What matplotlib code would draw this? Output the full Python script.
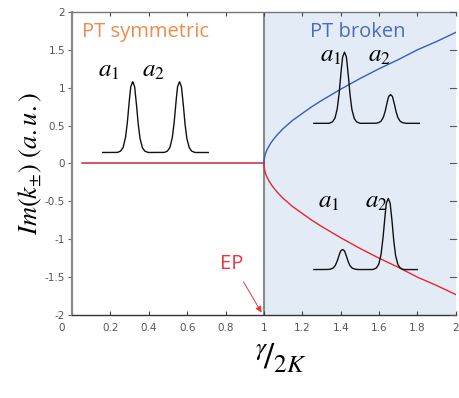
import numpy as np
import matplotlib
matplotlib.use("Agg")
import matplotlib.pyplot as plt
import matplotlib.transforms as mtransforms

plt.rcParams["mathtext.fontset"] = "stix"

# branches
gamma_flat = [0.05, 1.0]
im_flat = [0.0, 0.0]
gamma_broken = [1.0, 1.0002, 1.0005, 1.001, 1.002, 1.003, 1.005, 1.0075, 1.01,
                1.015, 1.02, 1.03, 1.04, 1.055, 1.07, 1.085, 1.1, 1.125, 1.15,
                1.2, 1.25, 1.3, 1.4, 1.5, 1.6, 1.7, 1.8, 1.9, 2.0]
im_upper = [0.0, 0.02, 0.032, 0.045, 0.063, 0.077, 0.1, 0.123, 0.142,
            0.174, 0.2, 0.245, 0.285, 0.335, 0.38, 0.42, 0.46, 0.515, 0.57,
            0.66, 0.75, 0.83, 0.98, 1.12, 1.25, 1.37, 1.5, 1.61, 1.73]
im_lower = [-v for v in im_upper]

# peak shape (offset, relative height) read from the sketches
peak_dx = [-0.08, -0.063, -0.05, -0.038, -0.028, -0.019, -0.01, 0.0,
           0.01, 0.019, 0.028, 0.038, 0.05, 0.063, 0.08]
peak_h = [0.0, 0.02, 0.07, 0.2, 0.42, 0.7, 0.93, 1.0,
          0.93, 0.7, 0.42, 0.2, 0.07, 0.02, 0.0]

# sketches: x range, baseline, peak centres, peak heights
sketch_x0 = [0.16, 1.26, 1.26]
sketch_x1 = [0.71, 1.81, 1.80]
sketch_base = [0.145, 0.53, -1.40]
sketch_centres = [[0.316, 0.56], [1.42, 1.66], [1.41, 1.648]]
sketch_heights = [[0.935, 0.935], [0.94, 0.38], [0.265, 0.94]]
label_pos = [[(0.19, 1.23), (0.425, 1.23)],
             [(1.35, 1.43), (1.60, 1.43)],
             [(1.34, -0.50), (1.585, -0.50)]]

fig = plt.figure(figsize=(4.59, 3.98), dpi=100)
ax = fig.add_axes([0.157, 0.2085, 0.836, 0.7615])
ax.set_xlim(0, 2)
ax.set_ylim(-2, 2)

ax.axvspan(1, 2, color="#e3ecf6", zorder=0, lw=0)
ax.axvline(1, color="#8a8a8a", lw=1.5, zorder=1)

ax.plot(gamma_flat, im_flat, color="#c8283c", lw=1.1, zorder=3)
ax.plot(gamma_broken, im_upper, color="#3a5bbf", lw=1.0, zorder=3)
ax.plot(gamma_broken, im_lower, color="#e8262a", lw=1.0, zorder=3)

for i in range(3):
    xs = np.linspace(sketch_x0[i], sketch_x1[i], 400)
    ys = np.full_like(xs, sketch_base[i])
    for c, h in zip(sketch_centres[i], sketch_heights[i]):
        ys += h * np.interp(xs - c, peak_dx, peak_h, left=0, right=0)
    ax.plot(xs, ys, color="#111111", lw=1.0, zorder=4)
    for j, (lx, ly) in enumerate(label_pos[i]):
        ax.text(lx, ly, rf"$a_{j + 1}$", fontsize=18, ha="center", va="center",
                zorder=5)

ax.text(0.05, 1.73, "PT symmetric", color="#f08a4b", fontsize=14.5,
        family="Open Sans", va="center", ha="left")
ax.text(1.49, 1.73, "PT broken", color="#4a6cc0", fontsize=14.5,
        family="Open Sans", va="center", ha="center")
ax.text(0.77, -1.33, "EP", color="#e8353a", fontsize=14.5,
        family="Open Sans", va="center", ha="left")
ax.annotate("", xy=(0.995, -2.0), xytext=(0.886, -1.53),
            arrowprops=dict(arrowstyle="-|>", color="#e8353a", lw=0.7,
                            mutation_scale=9), zorder=6)

ax.set_xticks([0, 0.2, 0.4, 0.6, 0.8, 1, 1.2, 1.4, 1.6, 1.8, 2])
ax.set_xticklabels(["0", "0.2", "0.4", "0.6", "0.8", "1", "1.2", "1.4",
                    "1.6", "1.8", "2"])
ax.set_yticks([-2, -1.5, -1, -0.5, 0, 0.5, 1, 1.5, 2])
ax.set_yticklabels(["-2", "-1.5", "-1", "-0.5", "0", "0.5", "1", "1.5", "2"])
ax.tick_params(axis="x", direction="in", top=True, length=3, labelsize=7.5,
               labelcolor="#555555", color="#444444", pad=6)
ax.tick_params(axis="y", direction="out", length=3, labelsize=7.5,
               labelcolor="#555555", color="#666666", pad=2)
ax.tick_params(axis="y", which="both", right=False)
for yv in [-2, -1.5, -1, -0.5, 0, 0.5, 1, 1.5, 2]:
    ax.plot([1.0, 0.985], [yv, yv], transform=ax.get_yaxis_transform(),
            color="#555555", lw=0.8, clip_on=False, zorder=6)

# the "0" label sits a bit left of the axis in the original
lbl0 = ax.get_xticklabels()[0]
lbl0.set_transform(lbl0.get_transform() +
                   mtransforms.ScaledTranslation(-10 / 100, 0, fig.dpi_scale_trans))

ax.spines["left"].set_color("#8a8a8a")
ax.spines["left"].set_linewidth(1.6)
ax.spines["bottom"].set_color("#333333")
ax.spines["bottom"].set_linewidth(1.0)
ax.spines["top"].set_color("#777777")
ax.spines["top"].set_linewidth(1.0)
ax.spines["right"].set_visible(False)

fig.text(0.065, 0.59, r"$Im(k_{\pm})\ (a.u.)$", rotation=90, fontsize=19,
         ha="center", va="center")
fig.text(0.612, 0.1, r"${}^{\gamma}\!/_{2K}$", fontsize=26,
         ha="center", va="center")

fig.savefig("out.png", dpi=100)
